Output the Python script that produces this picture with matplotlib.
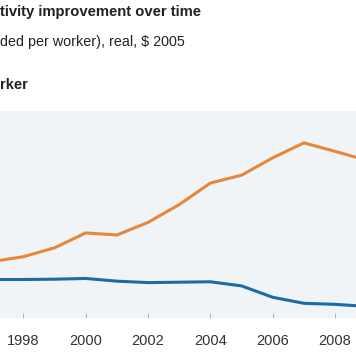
import matplotlib.pyplot as plt

# values (index, arbitrary units; axis has no labels)
years = [1997, 1998, 1999, 2000, 2001, 2002, 2003, 2004, 2005, 2006, 2007, 2008, 2009]
orange_vals = [27.3, 29.6, 33.9, 41.1, 40.1, 46.2, 54.8, 65.2, 69.0, 77.4, 84.6, 80.5, 76.2]
blue_vals = [18.6, 18.6, 18.75, 19.1, 17.8, 17.1, 17.3, 17.5, 15.5, 10.0, 7.1, 6.6, 5.6]
tick_years = [1998, 2000, 2002, 2004, 2006, 2008]

plt.rcParams['font.family'] = ['Liberation Sans', 'DejaVu Sans']

fig = plt.figure(figsize=(3.56, 3.64), dpi=100)
ax = fig.add_axes([0, (364 - 318) / 364, 1, (318 - 111) / 364])
ax.set_facecolor('#f1f4f6')

ax.plot(years, orange_vals, color='#e6873a', lw=2.2, solid_joinstyle='miter')
ax.plot(years, blue_vals, color='#1c6ba8', lw=2.2, solid_joinstyle='miter')

ax.set_xlim(1997.25, 2008.67)
ax.set_ylim(0, 100)
ax.set_xticks(tick_years)
ax.set_xticklabels([str(y) for y in tick_years])
ax.set_yticks([])
ax.tick_params(axis='x', direction='in', length=3.6, width=0.7, color='#b5b5b5',
               labelsize=10.5, labelcolor='#333333', pad=11.5)
for s in ax.spines.values():
    s.set_visible(False)

# header text (cropped on the left in the reference)
fig.text(0, 1 - 12 / 364, 'tivity improvement over time', fontsize=10.7, fontweight='bold',
         color='#222222', ha='left', va='center')
fig.text(0, 1 - 42 / 364, 'ded per worker), real, $ 2005', fontsize=10.25,
         color='#222222', ha='left', va='center')
fig.text(0, 1 - 85 / 364, 'rker', fontsize=10.5, fontweight='bold',
         color='#222222', ha='left', va='center')

fig.savefig('out.png', dpi=100)
